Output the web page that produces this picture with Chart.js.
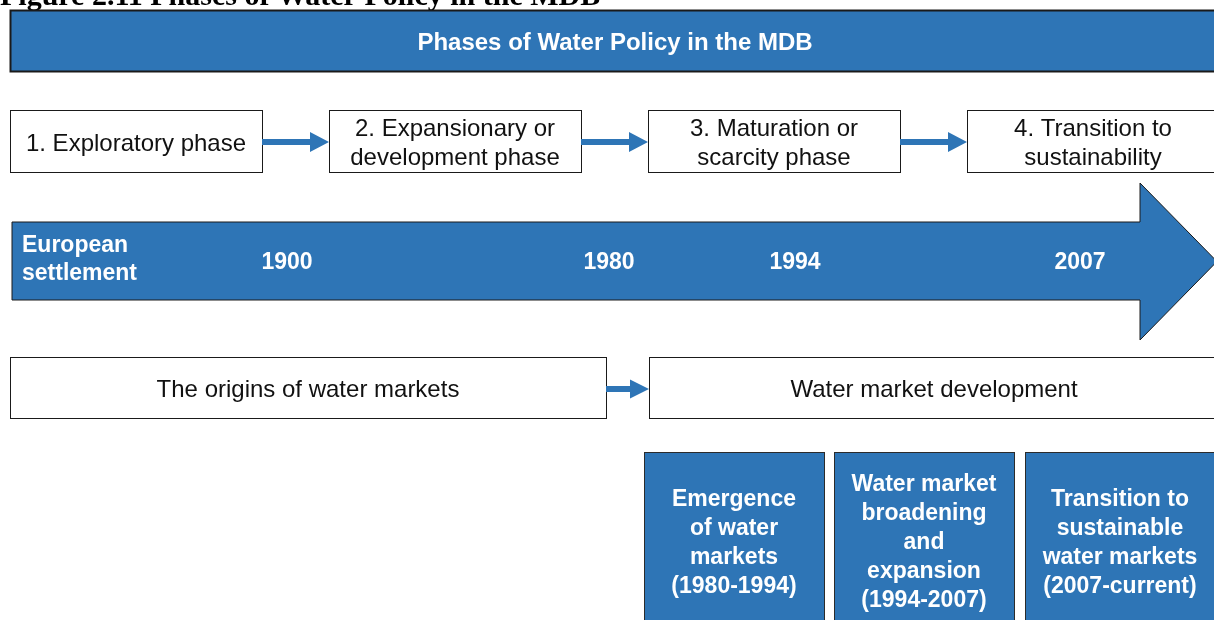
<!DOCTYPE html>
<html>
<head>
<meta charset="utf-8">
<script src="https://cdn.jsdelivr.net/npm/chart.js@4.4.1/dist/chart.umd.min.js"></script>
<style>
    html, body { margin: 0; padding: 0; background: #fff; }
    canvas { display: block; }
</style>
</head>
<body>
<canvas id="diagram" width="1214" height="620"></canvas>
<script>
// text content of the diagram
const caption = "Figure 2.11 Phases of Water Policy in the MDB"
const title = "Phases of Water Policy in the MDB"
const phases = [
    ["1. Exploratory phase"],
    ["2. Expansionary or", "development phase"],
    ["3. Maturation or", "scarcity phase"],
    ["4. Transition to", "sustainability"]
]
const milestones = [["European", "settlement"], ["1900"], ["1980"], ["1994"], ["2007"]]
const marketPhases = [["The origins of water markets"], ["Water market development"]]
const marketStages = [
    ["Emergence", "of water", "markets", "(1980-1994)"],
    ["Water market", "broadening", "and", "expansion", "(1994-2007)"],
    ["Transition to", "sustainable", "water markets", "(2007-current)"]
]

// layout, in page units (x from left, y from top)
const BLUE = "#2E75B6"
const INK = "#1a1a1a"
const titleBox = { x0: 10, x1: 1220, y0: 10, y1: 71 }
const phaseCols = [[10, 262], [329, 581], [648, 900], [967, 1220]]
const phaseRow = [110, 172]
const timeline = { x0: 12, shaftTop: 222, shaftBottom: 300, headX: 1140, headTop: 183, headBottom: 340, tipX: 1217 }
const milestoneX = [22, 287, 609, 795, 1080]
const marketCols = [[10, 606], [649, 1220]]
const marketRow = [357, 418]
const stageCols = [[644, 824], [834, 1014], [1025, 1220]]
const stageTop = 452

const SANS = "'Liberation Sans', Arial, sans-serif"
const TEXT_SHIFT = 2 // canvas "middle" sits a little high for these fonts

const diagramPlugin = {
    id: "diagram",
    afterDraw(chart) {
        const ctx = chart.ctx
        const sx = chart.scales.x
        const sy = chart.scales.y
        const X = v => sx.getPixelForValue(v)
        const Y = v => sy.getPixelForValue(v)

        const rect = (x0, y0, x1, y1, fill, stroke, lw) => {
            ctx.save()
            ctx.fillStyle = fill
            ctx.fillRect(X(x0), Y(y0), X(x1) - X(x0), Y(y1) - Y(y0))
            ctx.strokeStyle = stroke
            ctx.lineWidth = lw
            ctx.strokeRect(X(x0) + 0.5, Y(y0) + 0.5, X(x1) - X(x0), Y(y1) - Y(y0))
            ctx.restore()
        }

        const lines = (arr, cx, cy, lh, font, color, align) => {
            ctx.save()
            ctx.font = font
            ctx.fillStyle = color
            ctx.textAlign = align || "center"
            ctx.textBaseline = "middle"
            const top = cy + TEXT_SHIFT - (lh * (arr.length - 1)) / 2
            arr.forEach((t, i) => ctx.fillText(t, X(cx), Y(top + i * lh)))
            ctx.restore()
        }

        const arrow = (x0, x1, y, half, headLen, headHalf) => {
            ctx.save()
            ctx.fillStyle = BLUE
            ctx.beginPath()
            ctx.moveTo(X(x0), Y(y - half))
            ctx.lineTo(X(x1 - headLen), Y(y - half))
            ctx.lineTo(X(x1 - headLen), Y(y - headHalf))
            ctx.lineTo(X(x1), Y(y))
            ctx.lineTo(X(x1 - headLen), Y(y + headHalf))
            ctx.lineTo(X(x1 - headLen), Y(y + half))
            ctx.lineTo(X(x0), Y(y + half))
            ctx.closePath()
            ctx.fill()
            ctx.restore()
        }

        // caption, cut at the top edge
        ctx.save()
        ctx.font = "bold 30px 'Liberation Serif', 'Times New Roman', serif"
        ctx.fillStyle = "#000"
        ctx.textBaseline = "alphabetic"
        ctx.fillText(caption, X(0), Y(5))
        ctx.restore()

        // title bar
        rect(titleBox.x0, titleBox.y0, titleBox.x1, titleBox.y1, BLUE, INK, 2)
        lines([title], 615, 41, 28, "bold 24px " + SANS, "#fff")

        // phase boxes and arrows
        phases.forEach((p, i) => {
            const [a, b] = phaseCols[i]
            rect(a, phaseRow[0], b, phaseRow[1], "#fff", INK, 1)
            lines(p, (a + Math.min(b, 1219)) / 2, 142, 29, "24px " + SANS, "#111")
            if (i < phases.length - 1) arrow(b, phaseCols[i + 1][0], 142, 3, 19, 10)
        })

        // timeline arrow
        const t = timeline
        ctx.save()
        ctx.fillStyle = BLUE
        ctx.strokeStyle = INK
        ctx.lineWidth = 1
        ctx.beginPath()
        ctx.moveTo(X(t.x0), Y(t.shaftTop))
        ctx.lineTo(X(t.headX), Y(t.shaftTop))
        ctx.lineTo(X(t.headX), Y(t.headTop))
        ctx.lineTo(X(t.tipX), Y((t.headTop + t.headBottom) / 2))
        ctx.lineTo(X(t.headX), Y(t.headBottom))
        ctx.lineTo(X(t.headX), Y(t.shaftBottom))
        ctx.lineTo(X(t.x0), Y(t.shaftBottom))
        ctx.closePath()
        ctx.fill()
        ctx.stroke()
        ctx.restore()

        milestones.forEach((m, i) => {
            if (i === 0) lines(m, milestoneX[i], 258, 28, "bold 23px " + SANS, "#fff", "left")
            else lines(m, milestoneX[i], 261, 28, "bold 23px " + SANS, "#fff")
        })

        // water market phases
        marketPhases.forEach((m, i) => {
            const [a, b] = marketCols[i]
            rect(a, marketRow[0], b, marketRow[1], "#fff", INK, 1)
            const cx = i === 0 ? (a + b) / 2 : 934
            lines(m, cx, 388, 28, "24px " + SANS, "#111")
        })
        arrow(marketCols[0][1], marketCols[1][0], 389, 3, 19, 9.5)

        // stage boxes
        marketStages.forEach((s, i) => {
            const [a, b] = stageCols[i]
            rect(a, stageTop, b, 640, BLUE, "#2b2b2b", 1)
            const cx = i === 2 ? 1120 : (a + b) / 2
            lines(s, cx, 541, 29, "bold 23px " + SANS, "#fff")
        })
    }
}

new Chart(document.getElementById("diagram"), {
    type: "scatter",
    data: { datasets: [{ data: [], pointRadius: 0 }] },
    options: {
        responsive: false,
        animation: false,
        events: [],
        layout: { padding: 0 },
        plugins: { legend: { display: false }, tooltip: { enabled: false } },
        scales: {
            x: { type: "linear", min: 0, max: 1214, display: false },
            y: { type: "linear", min: 0, max: 620, reverse: true, display: false }
        }
    },
    plugins: [diagramPlugin]
})
</script>
</body>
</html>
